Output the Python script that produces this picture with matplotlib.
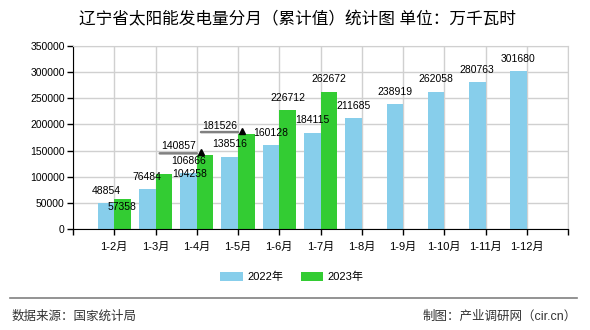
import matplotlib
matplotlib.use("Agg")
import matplotlib.pyplot as plt
from matplotlib.transforms import offset_copy
import numpy as np

plt.rcParams['font.family'] = ['Liberation Sans', 'Noto Sans CJK SC', 'DejaVu Sans']

# data
months = ['1-2月', '1-3月', '1-4月', '1-5月', '1-6月', '1-7月',
          '1-8月', '1-9月', '1-10月', '1-11月', '1-12月']
v2022 = [48854, 76484, 106866, 138516, 160128, 184115,
         211685, 238919, 262058, 280763, 301680]
v2023 = [57358, 104258, 140857, 181526, 226712, 262672]

# label placement for the 2023 values (pixel offsets from bar top centre)
green_offsets = [(0, -8), (25.6, 0.5), (-26.5, 9.4), (-26.3, 8), (0, 12.5), (0, 12.7)]
arrow_idx = [2, 3]  # labels that get the little pointer line

BLUE = '#87CEEB'
GREEN = '#33CC33'
GRID = '#d0d0d0'
PX = 0.72  # points per pixel at dpi 100

fig = plt.figure(figsize=(5.9, 3.3), dpi=100)
ax = fig.add_axes([73 / 590, 1 - 229 / 330, 495 / 590, 183 / 330])

x = np.arange(1, len(months) + 1)
w = 0.4
ax.bar(x[:len(v2022)] - w / 2, v2022, width=w, color=BLUE, label='2022年', zorder=2)
ax.bar(x[:len(v2023)] + w / 2, v2023, width=w, color=GREEN, label='2023年', zorder=2)

ax.set_xlim(0, len(months) + 1)
ax.set_ylim(0, 350000)
ax.set_yticks(np.arange(0, 350001, 50000))
ax.set_xticks(np.arange(0, len(months) + 2))
ax.set_xticklabels([''] + months + [''])
ax.grid(True, color=GRID, linewidth=1, zorder=0)
ax.set_axisbelow(True)
for s in ['top', 'right']:
    ax.spines[s].set_color(GRID)
for s in ['left', 'bottom']:
    ax.spines[s].set_color('black')
ax.tick_params(axis='both', length=4, width=1, color='black', labelsize=7.5)
ax.tick_params(axis='x', labelsize=8, pad=5)
ax.tick_params(axis='y', pad=2)

# 2022 labels: plain, above the bars
for xi, v in zip(x, v2022):
    ax.annotate(str(v), (xi - w / 2, v), xytext=(0, 12.5 * PX), textcoords='offset points',
                ha='center', va='center', fontsize=7.5, zorder=5)

# 2023 labels
line_tr = offset_copy(ax.transData, fig=fig, x=0, y=2, units='dots')
tri_tr = offset_copy(ax.transData, fig=fig, x=4, y=3, units='dots')
for i, (xi, v) in enumerate(zip(x, v2023)):
    dx, dy = green_offsets[i]
    ax.annotate(str(v), (xi + w / 2, v), xytext=(dx * PX, dy * PX), textcoords='offset points',
                ha='center', va='center', fontsize=7.5, zorder=5)
    if i in arrow_idx:
        # grey pointer line ending at the bar's top-left corner, with a small triangle
        ax.annotate('', xy=(xi, v), xycoords=line_tr, xytext=(-37 * PX, 0),
                    textcoords='offset points',
                    arrowprops=dict(arrowstyle='-', color='#808080', lw=1.8,
                                    shrinkA=0, shrinkB=0), zorder=5)
        ax.plot([xi], [v], marker='^', color='black', markersize=5,
                transform=tri_tr, zorder=6, clip_on=False)

fig.text(297 / 590, 1 - 19 / 330, '辽宁省太阳能发电量分月（累计值）统计图 单位：万千瓦时',
         ha='center', va='center', fontsize=12, color='black')

fig.legend(loc='center', bbox_to_anchor=(292 / 590, 1 - 277 / 330), ncol=2, frameon=False,
           fontsize=8, handlelength=2.0, handleheight=0.8, columnspacing=1.6, handletextpad=0.4)

fig.add_artist(plt.Line2D([10 / 590, 577 / 590], [1 - 298 / 330] * 2, color='#808080', lw=1.2))
fig.text(12 / 590, 1 - 317 / 330, '数据来源：国家统计局', ha='left', va='center', fontsize=9, color='#333333')
fig.text(577 / 590, 1 - 317 / 330, '制图：产业调研网（cir.cn）', ha='right', va='center', fontsize=9, color='#333333')

fig.savefig('out.png', dpi=100)
